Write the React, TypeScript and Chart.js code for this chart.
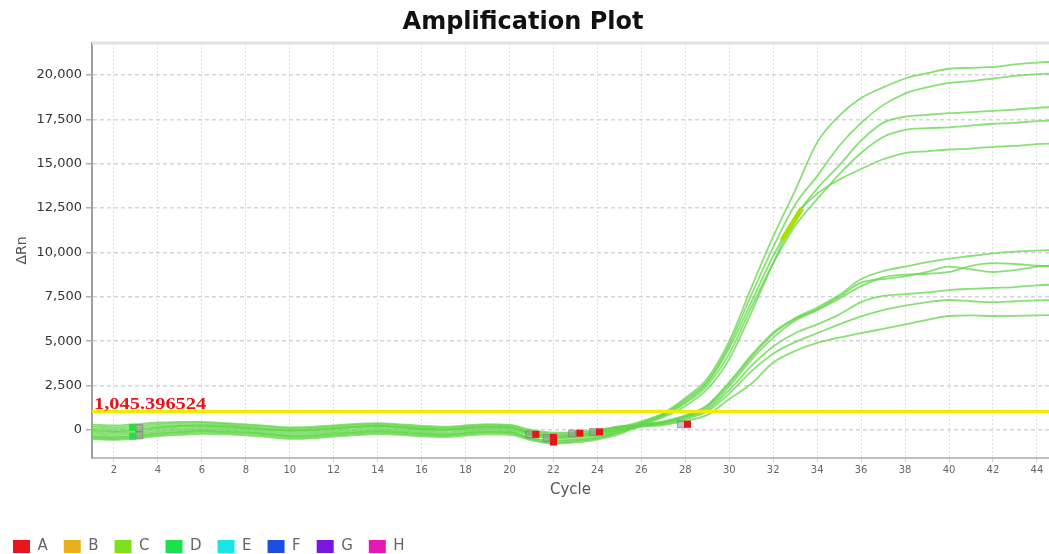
import React, { useEffect, useRef } from 'react';
import { Chart, registerables } from 'chart.js';

Chart.register(...registerables);

// ---------- data ----------
const cycles = [1, 2, 3, 4, 5, 6, 7, 8, 9, 10, 11, 12, 13, 14, 15, 16, 17, 18, 19, 20, 21, 22, 23, 24, 25, 26, 27, 28, 29, 30, 31, 32, 33, 34, 35, 36, 37, 38, 39, 40, 41, 42, 43, 44, 45];

const curveT1 = [100, 50, 120, 230, 280, 300, 250, 180, 80, 0, 30, 120, 200, 250, 180, 90, 40, 110, 190, 160, -150, -300, -250, -120, 150, 480, 950, 1800, 2900, 5000, 8000, 10900, 13500, 16200, 17700, 18700, 19300, 19800, 20100, 20350, 20400, 20450, 20600, 20700, 20750];
const curveT2 = [-350, -400, -320, -180, -100, -40, -80, -120, -230, -330, -300, -200, -120, -60, -110, -200, -240, -160, -80, -100, -450, -600, -520, -380, -50, 380, 880, 1700, 2750, 4800, 7600, 10300, 12700, 14300, 16000, 17300, 18300, 18950, 19300, 19550, 19650, 19800, 19950, 20050, 20100];
const curveT3 = [-50, -120, -30, 100, 180, 220, 160, 100, 20, -60, -40, 60, 140, 200, 140, 40, 0, 80, 150, 130, -200, -380, -320, -180, 100, 430, 850, 1600, 2650, 4600, 7200, 9800, 12000, 13600, 14900, 16300, 17300, 17650, 17750, 17850, 17900, 17980, 18050, 18150, 18200];
const curveT4 = [-450, -500, -420, -280, -200, -140, -170, -220, -320, -430, -400, -300, -220, -160, -200, -290, -330, -250, -170, -190, -520, -720, -640, -480, -150, 330, 800, 1500, 2500, 4300, 6900, 9400, 11500, 13000, 14400, 15600, 16500, 16900, 17000, 17050, 17150, 17250, 17300, 17400, 17450];
const curveT5 = [200, 150, 230, 330, 380, 400, 330, 260, 170, 90, 110, 200, 280, 330, 260, 170, 120, 190, 270, 240, -80, -220, -180, -50, 200, 300, 720, 1350, 2300, 4000, 6600, 9400, 12000, 13300, 14100, 14700, 15250, 15600, 15700, 15800, 15850, 15950, 16000, 16100, 16150];
const curveL1 = [-250, -300, -220, -90, -10, 40, 0, -50, -150, -250, -220, -120, -40, 20, -30, -120, -160, -80, 0, -20, -320, -480, -420, -280, -20, 300, 480, 820, 1400, 2700, 4200, 5500, 6300, 6900, 7600, 8500, 8950, 9200, 9450, 9650, 9800, 9950, 10050, 10100, 10150];
const curveL2 = [0, -60, 20, 140, 220, 260, 200, 130, 50, -30, -10, 90, 170, 230, 160, 70, 30, 100, 170, 150, -180, -330, -280, -150, 60, 250, 450, 780, 1350, 2600, 4100, 5400, 6250, 6800, 7500, 8300, 8500, 8650, 8900, 9200, 9050, 8900, 9000, 9200, 9300];
const curveL3 = [-500, -560, -480, -350, -280, -220, -250, -300, -400, -500, -470, -370, -290, -230, -270, -360, -400, -320, -250, -270, -580, -780, -700, -540, -240, 270, 420, 730, 1250, 2450, 3950, 5200, 6150, 6750, 7400, 8100, 8600, 8750, 8800, 8900, 9250, 9400, 9350, 9250, 9200];
const curveL4 = [-150, -200, -130, 0, 80, 130, 90, 40, -60, -160, -130, -30, 50, 110, 60, -30, -70, 0, 80, 60, -260, -420, -370, -230, 0, 230, 380, 690, 1150, 2250, 3600, 4700, 5450, 5950, 6500, 7200, 7550, 7650, 7750, 7880, 7950, 8000, 8050, 8150, 8200];
const curveL5 = [300, 250, 320, 420, 450, 460, 390, 320, 230, 150, 170, 260, 340, 390, 320, 230, 180, 250, 320, 290, 0, -150, -120, 0, 180, 240, 330, 610, 1050, 2050, 3300, 4300, 4950, 5450, 5950, 6400, 6750, 7000, 7200, 7320, 7250, 7200, 7250, 7300, 7320];
const curveL6 = [-380, -430, -350, -210, -130, -70, -110, -150, -250, -360, -330, -230, -150, -90, -140, -230, -270, -190, -110, -130, -470, -650, -580, -430, -130, 180, 280, 510, 850, 1750, 2600, 3800, 4450, 4900, 5200, 5450, 5700, 5950, 6200, 6420, 6450, 6420, 6430, 6450, 6480];

const thresholdCycles = [1, 45];
const thresholdValues = [1045.396524, 1045.396524];
const thresholdLabel = '1,045.396524';

const highlightCycles = [32.4, 33.3];
const highlightValues = [10680, 12480];

const redMarkerCycles = [21.2, 22.0, 22.0, 23.2, 24.1, 28.1];
const redMarkerValues = [-250, -420, -680, -180, -110, 320];
const grayMarkerCycles = [3.15, 3.15, 20.9, 21.7, 22.85, 23.8, 27.8];
const grayMarkerValues = [100, -300, -250, -450, -200, -120, 320];
const greenMarkerCycles = [2.85, 2.85];
const greenMarkerValues = [150, -350];

const xTickValues = [2, 4, 6, 8, 10, 12, 14, 16, 18, 20, 22, 24, 26, 28, 30, 32, 34, 36, 38, 40, 42, 44];
const yTickValues = [0, 2500, 5000, 7500, 10000, 12500, 15000, 17500, 20000];

const legendNames = ['A', 'B', 'C', 'D', 'E', 'F', 'G', 'H'];
const legendColors = ['#e8161c', '#e8b01e', '#7fe11c', '#1ce04e', '#1ce4e6', '#1a4fe2', '#7a16e0', '#e618b6'];

// ---------- helpers ----------
const toPoints = (xs: number[], ys: number[]) => xs.map((x, i) => ({ x, y: ys[i] }));

const curves = [curveT1, curveT2, curveT3, curveT4, curveT5, curveL1, curveL2, curveL3, curveL4, curveL5, curveL6];

const decorPlugin = {
  id: 'decor',
  afterDatasetsDraw(chart: any) {
    const { ctx, chartArea, scales } = chart;
    // top frame line
    ctx.save();
    ctx.strokeStyle = '#e2e2e2';
    ctx.lineWidth = 3;
    ctx.beginPath();
    ctx.moveTo(chartArea.left, chartArea.top);
    ctx.lineTo(chartArea.right, chartArea.top);
    ctx.stroke();
    ctx.restore();
    // threshold label
    const y = scales.y.getPixelForValue(thresholdValues[0]);
    ctx.save();
    ctx.font = 'bold 17px "Liberation Serif", "DejaVu Serif", serif';
    ctx.fillStyle = '#e8141c';
    ctx.textBaseline = 'alphabetic';
    ctx.textAlign = 'left';
    ctx.translate(chartArea.left + 2, y - 2);
    ctx.scale(1.2, 1);
    ctx.fillText(thresholdLabel, 0, 0);
    ctx.restore();
  },
};

export default function App() {
  const ref = useRef<HTMLCanvasElement>(null);

  useEffect(() => {
    const curveDatasets = curves.map((vals, i) => ({
      label: 'curve' + i,
      data: toPoints(cycles, vals),
      borderColor: 'rgba(98, 214, 72, 0.75)',
      borderWidth: 1.8,
      pointRadius: 0,
      cubicInterpolationMode: 'monotone' as const,
      fill: false,
    }));

    const datasets: any[] = [
      {
        label: 'green marker',
        data: toPoints(greenMarkerCycles, greenMarkerValues),
        showLine: false,
        pointStyle: 'rect',
        pointRadius: 5,
        backgroundColor: '#22e040',
        borderColor: '#22e040',
        borderWidth: 0,
      },
      {
        label: 'red markers',
        data: toPoints(redMarkerCycles, redMarkerValues),
        showLine: false,
        pointStyle: 'rect',
        pointRadius: 5,
        backgroundColor: '#e8141c',
        borderColor: '#e8141c',
        borderWidth: 0,
      },
      {
        label: 'gray markers',
        data: toPoints(grayMarkerCycles, grayMarkerValues),
        showLine: false,
        pointStyle: 'rect',
        pointRadius: 5,
        backgroundColor: 'rgba(150,150,150,0.55)',
        borderColor: 'rgba(120,120,120,0.6)',
        borderWidth: 1,
      },
      {
        label: 'threshold',
        data: toPoints(thresholdCycles, thresholdValues),
        borderColor: '#f0ec00',
        borderWidth: 3.5,
        pointRadius: 0,
        fill: false,
      },
      {
        label: 'highlight',
        data: toPoints(highlightCycles, highlightValues),
        borderColor: '#a8e000',
        borderWidth: 5,
        pointRadius: 0,
        fill: false,
      },
      ...curveDatasets,
    ];

    const chart = new Chart(ref.current as HTMLCanvasElement, {
      type: 'line',
      data: { datasets },
      plugins: [decorPlugin],
      options: {
        animation: false,
        responsive: true,
        maintainAspectRatio: false,
        events: [],
        layout: { autoPadding: false, padding: { left: -3, right: 0, top: 0, bottom: -10 } },
        plugins: {
          tooltip: { enabled: false },
          title: {
            display: true,
            text: 'Amplification Plot',
            color: '#111',
            font: { family: '"DejaVu Sans", sans-serif', size: 24, weight: 'bold' },
            padding: { top: 8, bottom: 6.2 },
          },
          legend: {
            display: true,
            position: 'bottom',
            align: 'start',
            labels: {
              boxWidth: 17,
              boxHeight: 13,
              padding: 16,
              color: '#666',
              font: { family: '"DejaVu Sans", sans-serif', size: 15 },
              generateLabels: () =>
                legendNames.map((name, i) => ({
                  text: name,
                  fillStyle: legendColors[i],
                  strokeStyle: legendColors[i],
                  lineWidth: 0,
                  hidden: false,
                  fontColor: '#666',
                  datasetIndex: i,
                })),
            },
          },
        },
        scales: {
          x: {
            type: 'linear',
            min: 1,
            max: 44.55,
            afterBuildTicks: (axis: any) => {
              axis.ticks = xTickValues.map((v) => ({ value: v }));
            },
            afterFit: (scale: any) => {
              scale.height = 65;
              scale.paddingLeft = 0;
              scale.paddingRight = 0;
            },
            ticks: {
              autoSkip: false,
              maxRotation: 0,
              color: '#666',
              padding: 2,
              font: { family: '"DejaVu Sans", sans-serif', size: 10 },
              callback: (v: any) => String(v),
            },
            grid: {
              color: '#e0e0e0',
              lineWidth: 1,
              tickLength: 4,
              tickColor: '#d0d0d0',
            },
            border: { display: true, color: '#bdbdbd', width: 2, dash: [2, 2] },
            title: {
              display: true,
              text: 'Cycle',
              color: '#555',
              font: { family: '"DejaVu Sans", sans-serif', size: 15 },
              padding: { top: 0, bottom: 24 },
            },
          },
          y: {
            type: 'linear',
            min: -1580,
            max: 21800,
            afterBuildTicks: (axis: any) => {
              axis.ticks = yTickValues.map((v) => ({ value: v }));
            },
            afterFit: (scale: any) => {
              scale.width = 95;
              scale.paddingTop = 0;
              scale.paddingBottom = 0;
            },
            ticks: {
              color: '#333',
              padding: 4,
              font: { family: '"DejaVu Sans", sans-serif', size: 13 },
              callback: (v: any) => Number(v).toLocaleString('en-US'),
            },
            grid: {
              color: '#d6d6d6',
              lineWidth: 1.5,
              tickLength: 6,
              tickColor: '#b0b0b0',
            },
            border: { display: true, color: '#a0a0a0', width: 2, dash: [4, 3] },
            title: {
              display: true,
              text: 'ΔRn',
              color: '#555',
              font: { family: '"DejaVu Sans", sans-serif', size: 14 },
              padding: { top: 16.6, bottom: 0 },
            },
          },
        },
      } as any,
    });

    return () => chart.destroy();
  }, []);

  return (
    <div style={{ position: 'fixed', left: 0, top: 0, width: 1049, height: 554, background: '#fff' }}>
      <canvas ref={ref} />
    </div>
  );
}
